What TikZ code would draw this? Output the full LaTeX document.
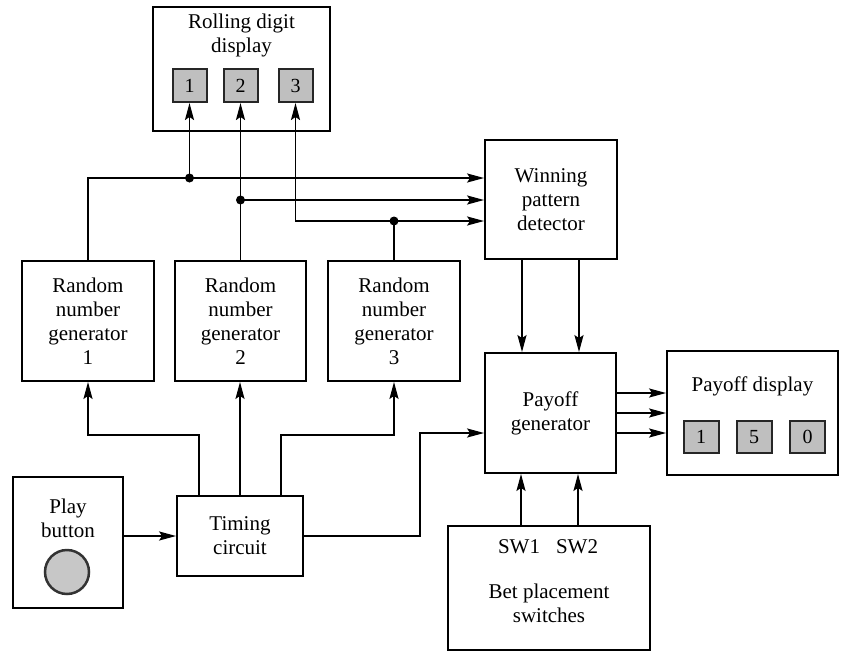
\documentclass[tikz,border=0pt]{standalone}
\usepackage{fontspec}
\setmainfont{Liberation Serif}
\usetikzlibrary{arrows.meta}
\begin{document}
\begin{tikzpicture}[x=1pt,y=-1pt,
  box/.style={draw, line width=1.8pt, inner sep=0pt, align=center, font=\fontsize{21}{24}\selectfont},
  txt/.style={inner sep=0pt, align=center, font=\fontsize{21}{24}\selectfont},
  digit/.style={draw=black!85, line width=2pt, fill=black!25, inner sep=0pt, minimum width=34pt, minimum height=33pt, font=\fontsize{20}{20}\selectfont},
  wire/.style={line width=1.8pt},
  arr/.style={wire, -{Stealth[length=17pt,width=9pt,inset=3pt]}},
  dot/.style={circle, fill, inner sep=0pt, minimum size=9pt}]
\useasboundingbox (0,0) rectangle (841,651);

% boxes
\node[box, minimum width=177pt, minimum height=124pt] (rdd) at (241.5,69) {};
\node[txt] (rddt) at (241.5,35) {Rolling digit\\display};
\node[digit] (d1) at (189.5,85.5) {1};
\node[digit] (d2) at (240.5,85.5) {2};
\node[digit] (d3) at (295.5,85.5) {3};

\node[box, minimum width=132pt, minimum height=119pt] (wpd) at (551,199.5) {Winning\\pattern\\detector};

\node[box, minimum width=132pt, minimum height=120pt] (rng1) at (88,321) {Random\\number\\generator\\1};
\node[box, minimum width=131pt, minimum height=120pt] (rng2) at (240.5,321) {Random\\number\\generator\\2};
\node[box, minimum width=132pt, minimum height=120pt] (rng3) at (394,321) {Random\\number\\generator\\3};

\node[box, minimum width=131pt, minimum height=120pt] (pg) at (550.5,413) {Payoff\\generator};

\node[box, minimum width=171pt, minimum height=124pt] (pd) at (752.5,413) {};
\node[txt] (pdt) at (752.5,386) {Payoff display};
\node[digit, minimum width=35pt, minimum height=32pt] (p1) at (701,437) {1};
\node[digit, minimum width=35pt, minimum height=32pt] (p2) at (754,437) {5};
\node[digit, minimum width=35pt, minimum height=32pt] (p3) at (807.5,437) {0};

\node[box, minimum width=110pt, minimum height=131pt] (play) at (68,542.5) {};
\node[txt] (playt) at (68,518) {Play\\button};
\node[circle, draw=black!80, line width=2.5pt, fill=black!22, minimum size=44pt, inner sep=0pt] (btn) at (67,572) {};

\node[box, minimum width=126pt, minimum height=80pt] (tc) at (240,536) {Timing\\circuit};

\node[box, minimum width=202pt, minimum height=124pt] (bet) at (549,588) {};
\node[txt] (sw1) at (519,547) {SW1};
\node[txt] (sw2) at (577,547) {SW2};
\node[txt] (bett) at (549,603) {Bet placement\\switches};

% junctions
\coordinate (j1) at (189.5,178);
\coordinate (j2) at (240.5,200);
\coordinate (j3) at (394,221);

% RNG outputs
\draw[arr] (rng1.north) |- (j1) -- (j1 -| wpd.west);
\draw[arr] (j1) -- (d1.south);
\draw[arr] (rng2.north) -- (d2.south);
\draw[arr] (j2) -- (j2 -| wpd.west);
\draw[arr] (rng3.north) -- (j3) -- (j3 -| wpd.west);
\draw[arr] (j3) -| (d3.south);
\node[dot] (dj1) at (j1) {};
\node[dot] (dj2) at (j2) {};
\node[dot] (dj3) at (j3) {};

% winning -> payoff
\draw[arr] ([xshift=-29pt]wpd.south) -- ([xshift=-29pt]wpd.south |- pg.north);
\draw[arr] ([xshift=28pt]wpd.south) -- ([xshift=28pt]wpd.south |- pg.north);

% payoff -> display
\foreach \s in {20,0,-20}
  \draw[arr] ([yshift=\s pt]pg.east) -- ([yshift=\s pt]pg.east -| pd.west);

% bet -> payoff
\draw[arr] ([xshift=-28pt]bet.north) -- ([xshift=-28pt]bet.north |- pg.south);
\draw[arr] ([xshift=29pt]bet.north) -- ([xshift=29pt]bet.north |- pg.south);

% timing
\draw[arr] ([xshift=-41pt]tc.north) -- ([xshift=-41pt]tc.north |- 0,435) -| (rng1.south);
\draw[arr] (tc.north) -- (tc.north |- rng2.south);
\draw[arr] ([xshift=41pt]tc.north) -- ([xshift=41pt]tc.north |- 0,435) -| (rng3.south);
\draw[arr] (tc.east) -| (420,433) -- (pg.west |- 0,433);

% play -> timing
\draw[arr] (play.east |- tc.west) -- (tc.west);
\end{tikzpicture}
\end{document}
